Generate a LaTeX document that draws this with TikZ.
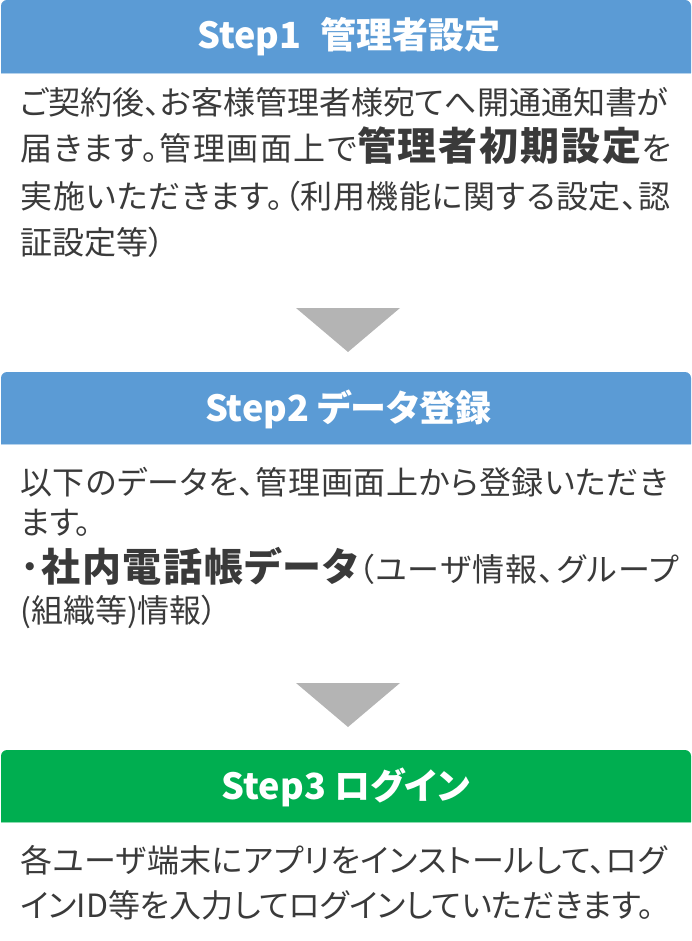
\documentclass[tikz,border=0pt]{standalone}
\usepackage{fontspec}
\newfontfamily\jpfont[RawFeature=+palt]{Noto Sans CJK JP}
\definecolor{stepblue}{HTML}{5B9BD5}
\definecolor{stepgreen}{HTML}{00AE50}
\definecolor{arrowgray}{HTML}{B4B4B4}
\definecolor{bodytext}{HTML}{3A3A3A}
\newcommand{\keyword}[1]{{\bfseries\fontsize{39}{39}\selectfont #1}}
\newcommand{\spreadline}[2]{{\addfontfeature{LetterSpace=#1}#2}}

\begin{document}
\begin{tikzpicture}[x=1pt, y=-1pt, every node/.append style={inner sep=0pt},
	title/.style={text=white, font=\jpfont\bfseries\fontsize{36}{36}\selectfont},
	body/.style={text=bodytext, anchor=base west, font=\jpfont\fontsize{32}{32}\selectfont}]
	\useasboundingbox (0,0) rectangle (692,941);
	
	% step 1
	\fill[stepblue] (1,73) [rounded corners=6pt] -- (1,0) -- (691,0) [sharp corners] -- (691,73) -- cycle;
	\draw[stepblue!45] (1,73.5) -- (691,73.5);
	\node[title] (t1) at (349,37) {Step1\hspace{0.3em} 管理者設定};
	\node[body] (b1-1) at (20,115) {ご契約後、お客様管理者様宛てへ開通通知書が};
	\node[body] (b1-2) at (20,161) {\spreadline{5.0}{届きます。管理画面上で\keyword{管理者初期設定}を}};
	\node[body] (b1-3) at (20,208) {\spreadline{2.6}{実施いただきます。（利用機能に関する設定、認}};
	\node[body] (b1-4) at (20,254) {証設定等）};
	
	\fill[arrowgray] (296,308) -- (400,308) -- (348,352) -- cycle;
	
	% step 2
	\fill[stepblue] (1,444) [rounded corners=6pt] -- (1,372) -- (691,372) [sharp corners] -- (691,444) -- cycle;
	\draw[stepblue!45] (1,444.5) -- (691,444.5);
	\node[title] (t2) at (348,409) {Step2 データ登録};
	\node[body] (b2-1) at (20,494) {\spreadline{2.2}{以下のデータを、管理画面上から登録いただき}};
	\node[body] (b2-2) at (20,534) {ます。};
	\node[body] (b2-3) at (20,581) {\spreadline{4.3}{\keyword{･社内電話帳データ}（ユーザ情報、グループ}};
	\node[body] (b2-4) at (20,622) {(組織等)情報）};
	
	\fill[arrowgray] (296,683) -- (400,683) -- (348,727) -- cycle;
	
	% step 3
	\fill[stepgreen] (1,822) [rounded corners=6pt] -- (1,750) -- (691,750) [sharp corners] -- (691,822) -- cycle;
	\draw[stepgreen!45] (1,822.5) -- (691,822.5);
	\node[title] (t3) at (346,787) {Step3 ログイン};
	\node[body] (b3-1) at (20,872) {\spreadline{1.7}{各ユーザ端末にアプリをインストールして、ログ}};
	\node[body] (b3-2) at (20,917) {インID等を入力してログインしていただきます。};
\end{tikzpicture}
\end{document}
